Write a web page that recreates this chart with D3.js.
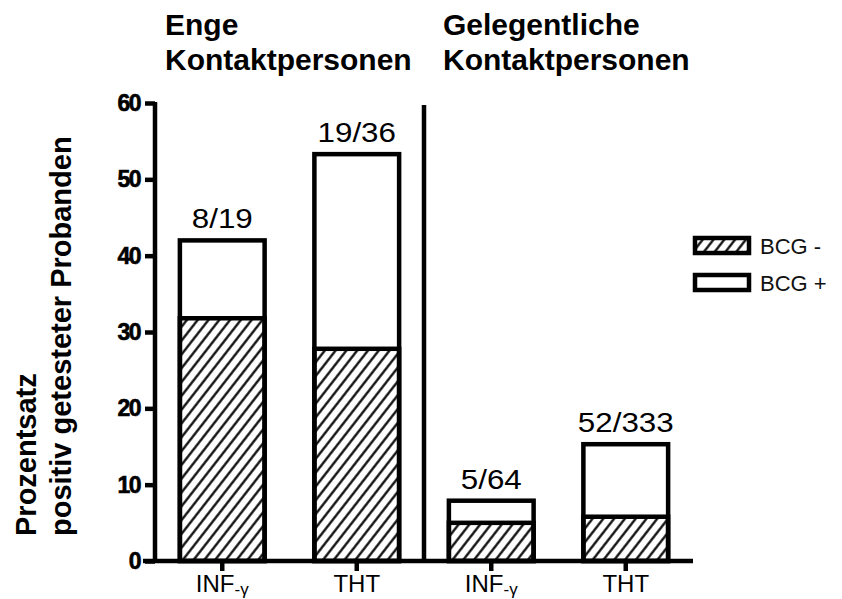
<!DOCTYPE html>
<html>
<head>
<meta charset="utf-8">
<script src="https://cdn.jsdelivr.net/npm/d3@7"></script>
<style>
	body { margin: 0; background: #fff; }
	svg { display: block; font-family: "Liberation Sans", Arial, sans-serif; }
</style>
</head>
<body>
<svg id="chart" width="842" height="599"></svg>
<script>
// categories, one per bar
let barIds = ['enge-inf', 'enge-tht', 'gel-inf', 'gel-tht'];
let testNames = ['INF', 'THT', 'INF', 'THT'];
let groupTitles = [['Enge', 'Kontaktpersonen'], ['Gelegentliche', 'Kontaktpersonen']];
// percentages
let bcgNeg = [31.8, 27.8, 5.0, 5.8];
let totals = [42.0, 53.3, 7.9, 15.3];
let countLabels = ['8/19', '19/36', '5/64', '52/333'];
let yTicks = [0, 10, 20, 30, 40, 50, 60];
let legendLabels = ['BCG -', 'BCG +'];

let d3 = window.d3;
let svg = d3.select('#chart');
let sw = 4.5;

let x = d3.scaleBand()
	.domain(barIds)
	.range([155, 693])
	.paddingInner(0.37)
	.paddingOuter(0.185);

let y = d3.scaleLinear()
	.domain([0, 60])
	.range([561, 103]);

// hatch pattern
svg.append('defs').append('pattern')
	.attr('id', 'hatch')
	.attr('patternUnits', 'userSpaceOnUse')
	.attr('width', 10)
	.attr('height', 8.5)
	.attr('patternTransform', 'rotate(-52)')
	.append('line')
	.attr('x1', -1).attr('x2', 11)
	.attr('y1', 4.25).attr('y2', 4.25)
	.attr('stroke', '#000')
	.attr('stroke-width', 2.2);

let bars = svg.append('g');
let data = barIds.map((id, i) => ({ id: id, neg: bcgNeg[i], total: totals[i], label: countLabels[i] }));

// BCG + part (full bar outline)
bars.selectAll('rect.total')
	.data(data)
	.enter().append('rect')
	.attr('class', 'total')
	.attr('x', d => x(d.id))
	.attr('width', x.bandwidth())
	.attr('y', d => y(d.total))
	.attr('height', d => y(0) - y(d.total))
	.attr('fill', '#fff')
	.attr('stroke', '#000')
	.attr('stroke-width', sw);

// BCG - part
bars.selectAll('rect.neg')
	.data(data)
	.enter().append('rect')
	.attr('class', 'neg')
	.attr('x', d => x(d.id))
	.attr('width', x.bandwidth())
	.attr('y', d => y(d.neg))
	.attr('height', d => y(0) - y(d.neg))
	.attr('fill', 'url(#hatch)')
	.attr('stroke', '#000')
	.attr('stroke-width', sw);

// count labels above bars
bars.selectAll('text.count')
	.data(data)
	.enter().append('text')
	.attr('class', 'count')
	.attr('transform', d => 'translate(' + (x(d.id) + x.bandwidth() / 2) + ',' + (y(d.total) - 12) + ') scale(1.12,1)')
	.attr('text-anchor', 'middle')
	.attr('font-size', 28)
	.text(d => d.label);

// y axis
let yAxis = svg.append('g')
	.attr('transform', 'translate(155,0)')
	.call(d3.axisLeft(y).tickValues(yTicks).tickSize(10).tickSizeOuter(0).tickPadding(5));
yAxis.select('.domain').attr('stroke-width', sw).attr('d', 'M0,' + (y(0) + 2) + 'V' + (y(60) - 1));
yAxis.selectAll('.tick line').attr('stroke-width', sw);
yAxis.selectAll('.tick text')
	.attr('font-size', 23)
	.attr('font-weight', 'bold')
	.attr('font-family', '"Liberation Sans", Arial, sans-serif')
	.attr('fill', '#000')
	.attr('stroke', '#000')
	.attr('stroke-width', 0.6)
	.attr('letter-spacing', -1.5);

// x axis
let xAxis = svg.append('g')
	.attr('transform', 'translate(0,' + y(0) + ')')
	.call(d3.axisBottom(x).tickSize(10).tickSizeOuter(0).tickFormat(''));
xAxis.select('.domain').attr('stroke-width', sw).attr('d', 'M143,0H693');
xAxis.selectAll('.tick line').attr('stroke-width', sw);
xAxis.selectAll('.tick text').remove();

let xLabels = xAxis.selectAll('.tick').append('text')
	.attr('y', 31)
	.attr('fill', '#000')
	.attr('font-size', 24)
	.attr('text-anchor', 'middle')
	.attr('font-family', '"Liberation Sans", Arial, sans-serif');
xLabels.append('tspan').text((d, i) => testNames[i]);
xLabels.filter((d, i) => testNames[i] === 'INF')
	.append('tspan')
	.attr('font-size', 17)
	.attr('dy', 3)
	.text('-γ');

// divider between groups
svg.append('line')
	.attr('x1', 424).attr('x2', 424)
	.attr('y1', y(60) + 2).attr('y2', y(0))
	.attr('stroke', '#000')
	.attr('stroke-width', sw);

// group titles
let titleX = [165, 443];
groupTitles.forEach((lines, gi) => {
	lines.forEach((t, li) => {
		svg.append('text')
			.attr('x', titleX[gi])
			.attr('y', 35 + li * 35)
			.attr('font-size', 30)
			.attr('font-weight', 'bold')
			.text(t);
	});
});

// y axis title
let yTitle = ['Prozentsatz', 'positiv getesteter Probanden'];
yTitle.forEach((t, i) => {
	svg.append('text')
		.attr('transform', 'translate(' + (36 + i * 35) + ',536) rotate(-90)')
		.attr('font-size', 29)
		.attr('font-weight', 'bold')
		.text(t);
});

// legend
let legend = svg.append('g');
legendLabels.forEach((t, i) => {
	let ly = 238 + i * 37;
	legend.append('rect')
		.attr('x', 695).attr('y', ly)
		.attr('width', 54).attr('height', 15)
		.attr('fill', i === 0 ? 'url(#hatch)' : '#fff')
		.attr('stroke', '#000')
		.attr('stroke-width', sw);
	legend.append('text')
		.attr('x', 760).attr('y', ly + 16)
		.attr('font-size', 22)
		.attr('fill', '#111')
		.text(t);
});
</script>
</body>
</html>
